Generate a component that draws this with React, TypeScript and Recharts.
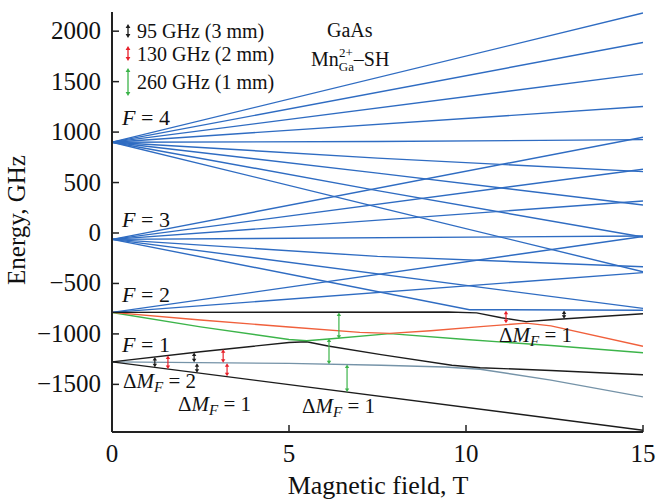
import { LineChart, Line, XAxis, YAxis, ReferenceLine } from "recharts";

type Pt = [number, number];

// magnetic field (T) / energy (GHz) axes
const xTicks = [0, 5, 10, 15];
const yTicks = [-1500, -1000, -500, 0, 500, 1000, 1500, 2000];

// F = 4 multiplet, all blue
const f4Lines: Pt[][] = [
  [[0, 900], [15, 2180]],
  [[0, 900], [15, 1888]],
  [[0, 900], [15, 1577]],
  [[0, 900], [15, 1253]],
  [[0, 900], [7.5, 906], [15, 925]],
  [[0, 900], [7.5, 742], [15, 608]],
  [[0, 900], [7.5, 593], [15, 278]],
  [[0, 900], [7.5, 420], [15, -40]],
  [[0, 900], [7.5, 257], [15, -384]],
];

// F = 3 multiplet, blue
const f3Lines: Pt[][] = [
  [[0, -63], [15, 949]],
  [[0, -63], [15, 632]],
  [[0, -63], [15, 317]],
  [[0, -63], [15, -30]],
  [[0, -63], [7.5, -232], [15, -334]],
  [[0, -63], [15, -747]],
  [[0, -63], [10.1, -760], [15, -765]],
];

// F = 2 multiplet: two blue + black, orange, green
const f2Blue: Pt[][] = [
  [[0, -787], [15, -35]],
  [[0, -787], [15, -393]],
];
const f2Black: Pt[] = [[0, -787], [9.5, -783], [10.3, -792], [11, -840], [11.7, -878], [12.4, -860], [15, -800]];
const f2Orange: Pt[] = [[0, -787], [2.5, -862], [5, -932], [7, -985], [7.85, -995], [9, -968], [10.5, -925], [11.7, -893], [12.4, -920], [15, -1122]];
const f2Green: Pt[] = [[0, -787], [2.5, -930], [5, -1055], [5.5, -1068], [6.2, -1048], [7.85, -997], [10, -1055], [12.4, -1115], [15, -1187]];

// F = 1 multiplet
const f1Upper: Pt[] = [[0, -1277], [2.5, -1177], [5, -1085], [5.5, -1078], [6.1, -1120], [7.6, -1205], [9.6, -1310], [10.4, -1335], [12.4, -1362], [15, -1405]];
const f1Middle: Pt[] = [[0, -1277], [5, -1292], [7.6, -1310], [9.4, -1328], [10.4, -1350], [12.4, -1458], [15, -1624]];
const f1Lower: Pt[] = [[0, -1277], [15, -1954]];

// transitions: [field, E from, E to]
const arrows95: number[][] = [[1.21, -1229, -1331], [2.32, -1185, -1282], [2.4, -1290, -1385], [12.77, -767, -850]];
const arrows130: number[][] = [[1.58, -1214, -1348], [3.14, -1152, -1285], [3.25, -1290, -1420], [11.13, -770, -895]];
const arrows260: number[][] = [[6.41, -787, -1047], [6.13, -1045, -1300], [6.64, -1302, -1575]];

const BLUE = "#2f6cc2";
const BLACK = "#1c1c1c";
const ORANGE = "#f0603c";
const GREEN = "#3cb44a";
const GREY = "#7593a8";
const RED = "#e8202a";

const toRows = (pts: Pt[]) => pts.map(([b, e]) => ({ b, e }));

const levels = [
  ...f4Lines.map((p) => ({ pts: p, color: BLUE })),
  ...f3Lines.map((p) => ({ pts: p, color: BLUE })),
  ...f2Blue.map((p) => ({ pts: p, color: BLUE })),
  { pts: f1Middle, color: GREY },
  { pts: f1Lower, color: BLACK },
  { pts: f1Upper, color: BLACK },
  { pts: f2Green, color: GREEN },
  { pts: f2Orange, color: ORANGE },
  { pts: f2Black, color: BLACK },
];

const Arrow = (props: any) => {
  const { x1, y1, x2, y2, stroke } = props;
  const top = Math.min(y1, y2);
  const bot = Math.max(y1, y2);
  const x = (x1 + x2) / 2;
  const h = 3.5;
  const w = 2.2;
  return (
    <g>
      <line x1={x} y1={top + 2} x2={x} y2={bot - 2} stroke={stroke} strokeWidth={1.2} />
      <polygon points={`${x - w},${top + h} ${x + w},${top + h} ${x},${top}`} fill={stroke} />
      <polygon points={`${x - w},${bot - h} ${x + w},${bot - h} ${x},${bot}`} fill={stroke} />
    </g>
  );
};

const LegendArrow = ({ x, y1, y2, color }: { x: number; y1: number; y2: number; color: string }) => (
  <g>
    <line x1={x} y1={y1 + 2} x2={x} y2={y2 - 2} stroke={color} strokeWidth={1.3} />
    <polygon points={`${x - 2.4},${y1 + 4} ${x + 2.4},${y1 + 4} ${x},${y1}`} fill={color} />
    <polygon points={`${x - 2.4},${y2 - 4} ${x + 2.4},${y2 - 4} ${x},${y2}`} fill={color} />
  </g>
);

const serif = "Liberation Serif, Times New Roman, serif";
const fmt = (v: number) => String(v).replace("-", "\u2212");

const YTick = (props: any) => {
  const { x, y, payload } = props;
  return (
    <text x={x} y={y} dy={8} textAnchor="end" fontSize={25} fontFamily={serif} fill="#111">
      {fmt(payload.value)}
    </text>
  );
};

const XTick = (props: any) => {
  const { x, y, payload } = props;
  return (
    <text x={x} y={y} dy={17} textAnchor="middle" fontSize={25} fontFamily={serif} fill="#111">
      {payload.value}
    </text>
  );
};

const DeltaM = ({ x, y, n }: { x: number; y: number; n: number }) => (
  <text x={x} y={y} fontSize={21} fontFamily={serif} fill="#111">
    Δ<tspan fontStyle="italic">M</tspan>
    <tspan fontStyle="italic" fontSize={15} dy={4}>F</tspan>
    <tspan dy={-4}> = {n}</tspan>
  </text>
);

const FLabel = ({ y, n }: { y: number; n: number }) => (
  <text x={122} y={y} fontSize={22} fontFamily={serif} fill="#111">
    <tspan fontStyle="italic">F</tspan> = {n}
  </text>
);

export default function App() {
  const axisLine = { stroke: "#222", strokeWidth: 2 };
  const tickLine = { stroke: "#222", strokeWidth: 1.5 };
  return (
    <div style={{ position: "absolute", left: 0, top: 0, width: 656, height: 502, background: "#fff" }}>
      <LineChart width={656} height={502} margin={{ top: 12, right: 13, bottom: 0, left: 0 }}>
        <XAxis
          dataKey="b"
          type="number"
          domain={[0, 15]}
          ticks={xTicks}
          allowDataOverflow
          height={70}
          tick={<XTick />}
          tickSize={-7}
          tickMargin={20}
          axisLine={axisLine}
          tickLine={tickLine}
        />
        <XAxis
          xAxisId="top"
          orientation="top"
          type="number"
          domain={[0, 15]}
          ticks={xTicks}
          height={0}
          tick={false}
          tickSize={-7}
          axisLine={axisLine}
          tickLine={tickLine}
        />
        <YAxis
          type="number"
          domain={[-1972, 2190]}
          ticks={yTicks}
          allowDataOverflow
          width={112}
          tick={<YTick />}
          tickSize={-7}
          tickMargin={18}
          axisLine={axisLine}
          tickLine={tickLine}
        />
        <YAxis
          yAxisId="right"
          orientation="right"
          type="number"
          domain={[-1972, 2190]}
          ticks={yTicks}
          width={0}
          tick={false}
          tickSize={-7}
          axisLine={axisLine}
          tickLine={tickLine}
        />
        {levels.map((lv, i) => (
          <Line
            key={i}
            data={toRows(lv.pts)}
            dataKey="e"
            type="linear"
            dot={false}
            stroke={lv.color}
            strokeWidth={1.4}
            isAnimationActive={false}
          />
        ))}
        {[
          ...arrows95.map((a) => ({ a, c: BLACK })),
          ...arrows130.map((a) => ({ a, c: RED })),
          ...arrows260.map((a) => ({ a, c: GREEN })),
        ].map(({ a, c }, i) => (
          <ReferenceLine
            key={"ar" + i}
            segment={[
              { x: a[0], y: a[1] },
              { x: a[0], y: a[2] },
            ]}
            stroke={c}
            shape={<Arrow />}
          />
        ))}
      </LineChart>
      <svg width={656} height={502} style={{ position: "absolute", left: 0, top: 0, pointerEvents: "none" }}>
        <LegendArrow x={128} y1={24} y2={38} color={BLACK} />
        <LegendArrow x={128} y1={46} y2={61} color={RED} />
        <LegendArrow x={128} y1={68} y2={96} color={GREEN} />
        <text x={137} y={38} fontSize={20} fontFamily={serif} fill="#111">95 GHz (3 mm)</text>
        <text x={137} y={61} fontSize={20} fontFamily={serif} fill="#111">130 GHz (2 mm)</text>
        <text x={137} y={89} fontSize={20} fontFamily={serif} fill="#111">260 GHz (1 mm)</text>
        <text x={327} y={37} fontSize={20} fontFamily={serif} fill="#111">GaAs</text>
        <text x={311} y={66} fontSize={20} fontFamily={serif} fill="#111">
          Mn
          <tspan fontSize={13} dy={5}>Ga</tspan>
          <tspan fontSize={13} dx={-15} dy={-14}>2+</tspan>
          <tspan dy={9} dx={1}>–SH</tspan>
        </text>
        <FLabel y={125} n={4} />
        <FLabel y={227} n={3} />
        <FLabel y={302} n={2} />
        <FLabel y={352} n={1} />
        <DeltaM x={123} y={388} n={2} />
        <DeltaM x={178} y={411} n={1} />
        <DeltaM x={302} y={413} n={1} />
        <DeltaM x={499} y={342} n={1} />
        <text x={378} y={494} fontSize={26} fontFamily={serif} fill="#111" textAnchor="middle">
          Magnetic field, T
        </text>
        <text
          transform="translate(25,220) rotate(-90)"
          fontSize={25}
          fontFamily={serif}
          fill="#111"
          textAnchor="middle"
        >
          Energy, GHz
        </text>
      </svg>
    </div>
  );
}
